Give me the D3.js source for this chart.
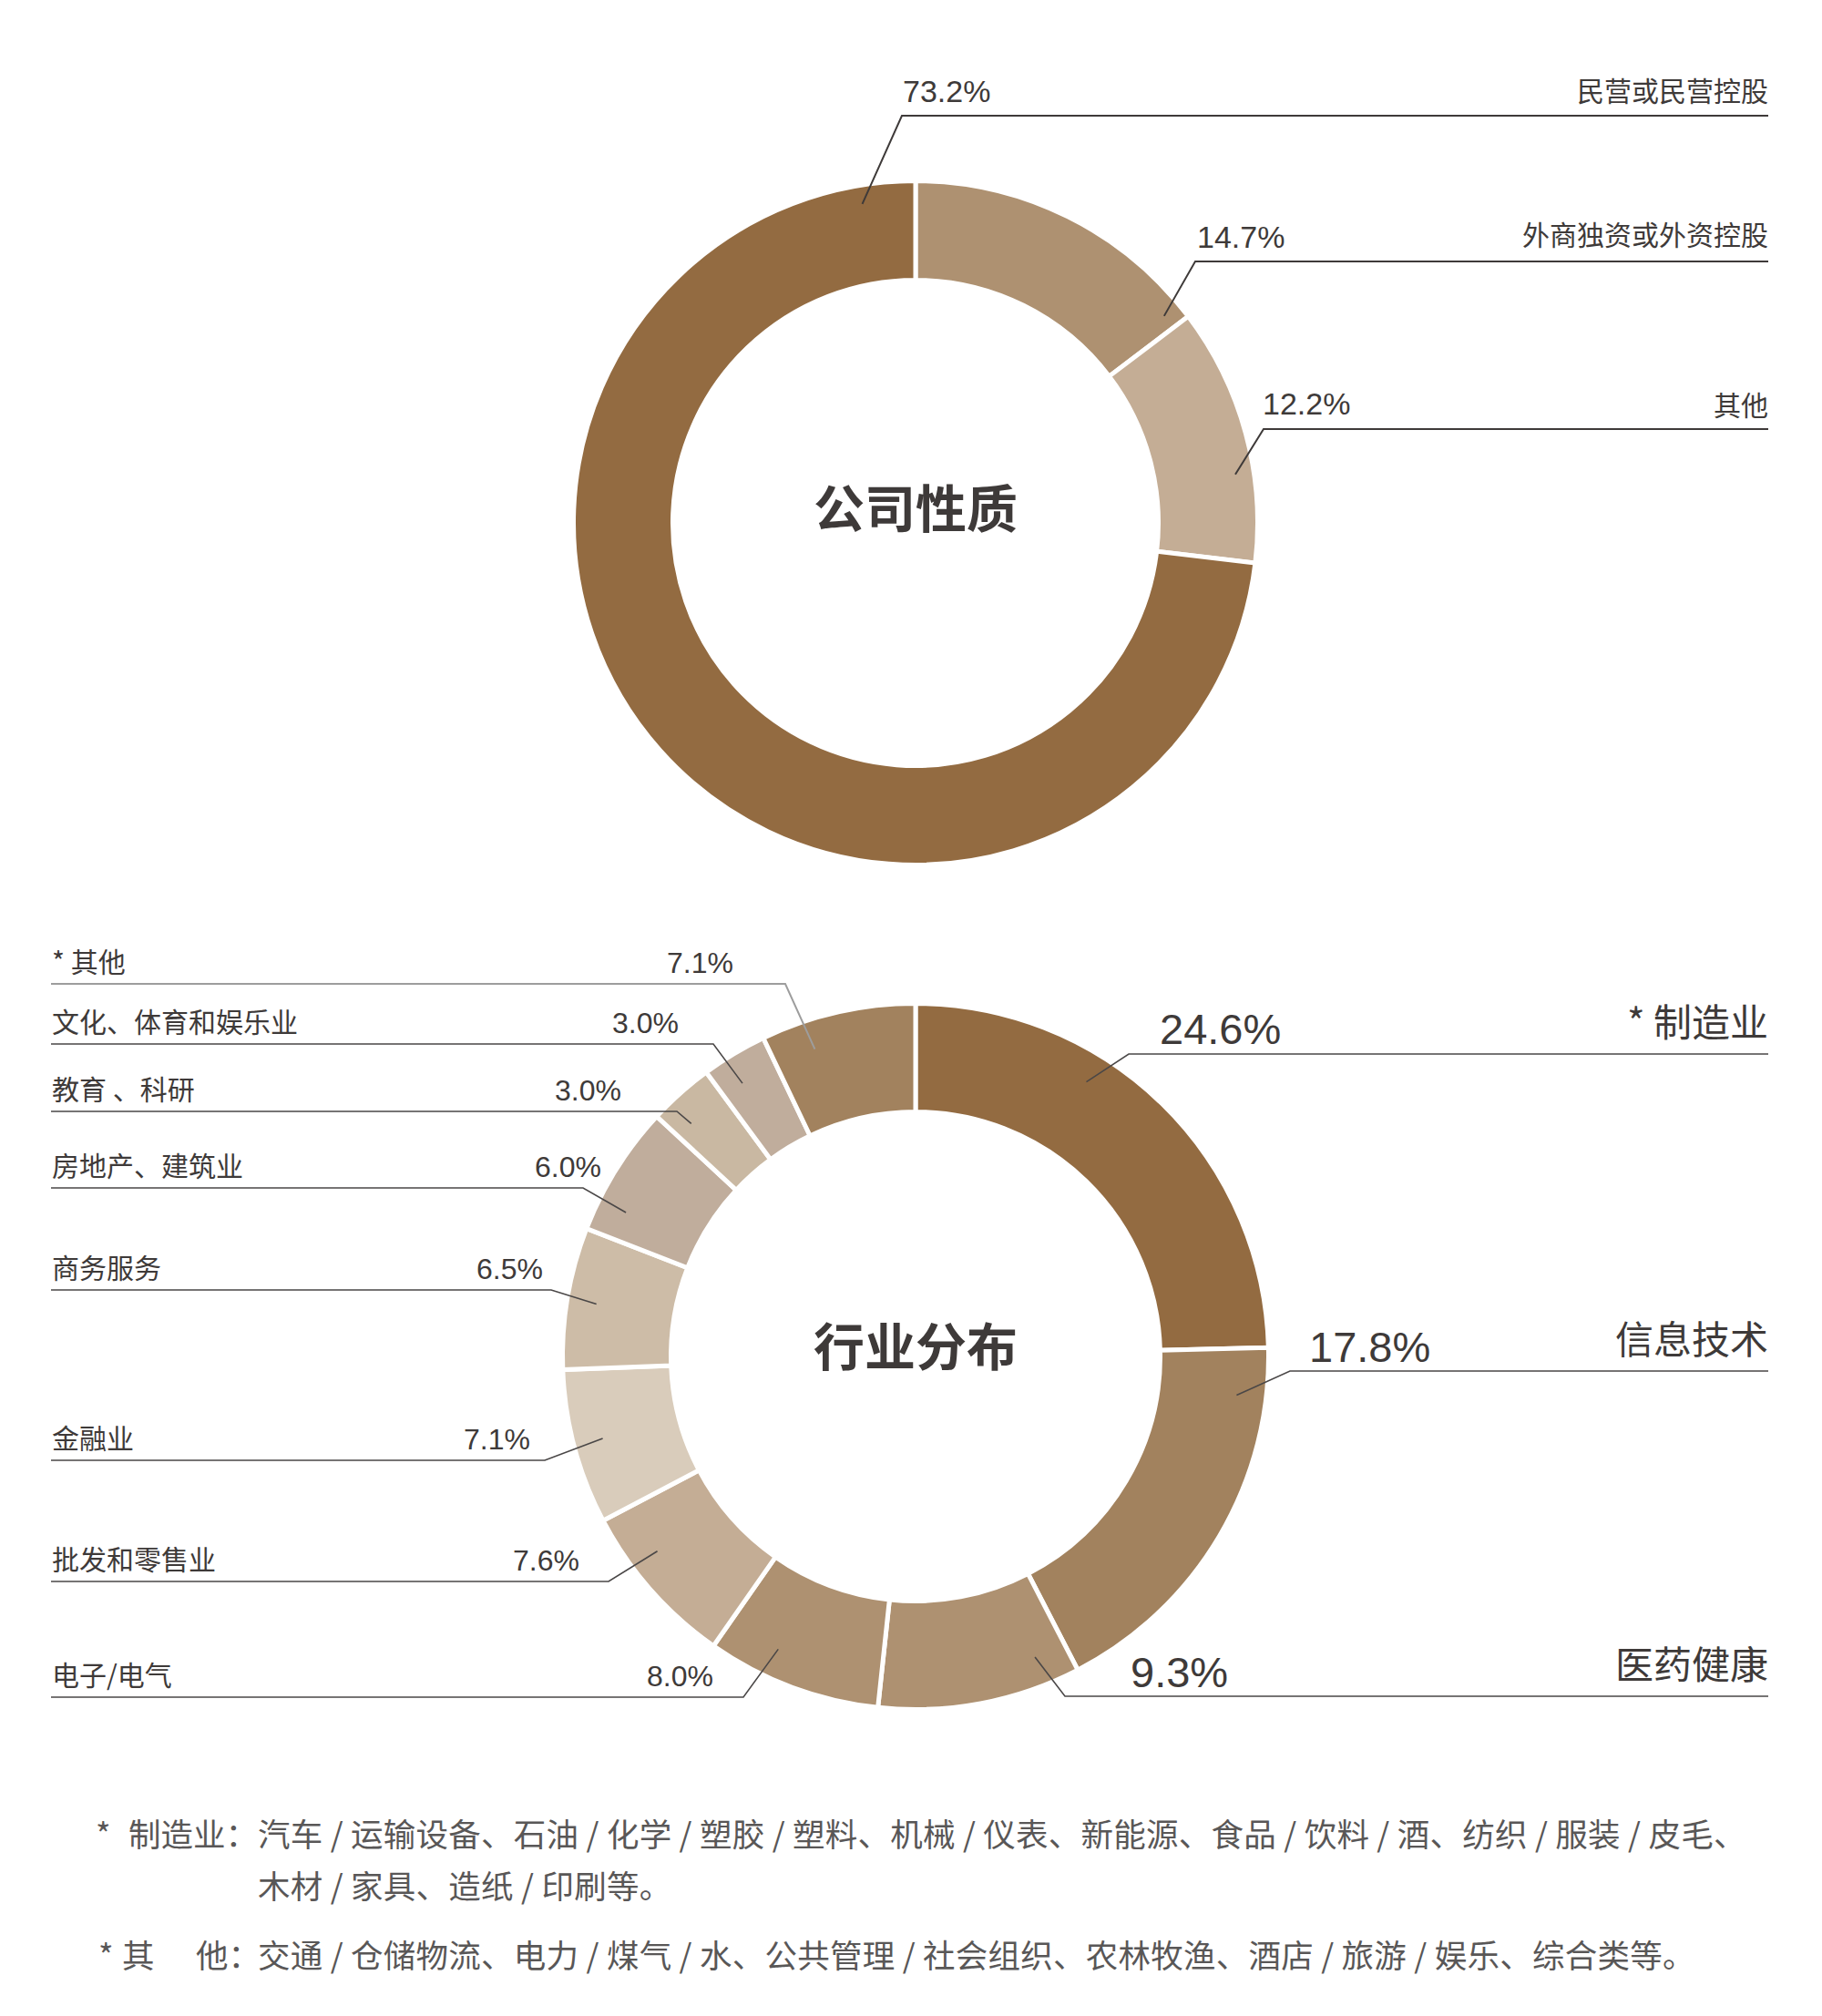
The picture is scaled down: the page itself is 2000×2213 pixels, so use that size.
<!DOCTYPE html>
<html><head><meta charset="utf-8">
<script src="https://cdn.jsdelivr.net/npm/d3@7"></script>
<style>
html,body{margin:0;padding:0;background:#fff;}
svg{display:block;}
</style></head>
<body>
<script>
// ---------- data ----------
const topTitle = "公司性质";
const topCategories = ["外商独资或外资控股", "其他", "民营或民营控股"];
const topValues = [14.7, 12.2, 73.2];
const topLabels = ["14.7%", "12.2%", "73.2%"];

const botTitle = "行业分布";
const botCategories = ["* 制造业", "信息技术", "医药健康", "电子/电气", "批发和零售业", "金融业", "商务服务", "房地产、建筑业", "教育 、科研", "文化、体育和娱乐业", "* 其他"];
const botValues = [24.6, 17.8, 9.3, 8.0, 7.6, 7.1, 6.5, 6.0, 3.0, 3.0, 7.1];
const botLabels = ["24.6%", "17.8%", "9.3%", "8.0%", "7.6%", "7.1%", "6.5%", "6.0%", "3.0%", "3.0%", "7.1%"];

const footnotes = [
  {mark: "*", head: ["制造业："], lines: ["汽车 / 运输设备、石油 / 化学 / 塑胶 / 塑料、机械 / 仪表、新能源、食品 / 饮料 / 酒、纺织 / 服装 / 皮毛、", "木材 / 家具、造纸 / 印刷等。"]},
  {mark: "*", head: ["其", "他："], lines: ["交通 / 仓储物流、电力 / 煤气 / 水、公共管理 / 社会组织、农林牧渔、酒店 / 旅游 / 娱乐、综合类等。"]}
];

// ---------- styles ----------
const topColors = ["#ae9171", "#c4ad95", "#936b41"];
const botColors = ["#936b41", "#a2825e", "#ae9171", "#ae9171", "#c4ad95", "#d9ccbb", "#cdbca7", "#c0ad9c", "#c9b8a2", "#c0ad9c", "#a2825e"];
const TEXT = "#3e3a39";
const CJK = "'Noto Sans CJK SC', 'Noto Sans', sans-serif";
const NUM = "'Liberation Sans', Arial, sans-serif";

// ---------- layout (annotation placement) ----------
const topLayout = {cx: 1005, cy: 574, rOut: 373, rIn: 269, rLead: 355, titleY: 579,
  rightX: 1941,
  items: [
    {side: "right", lineY: 287, elbowX: 1312, pctX: 1314, pctY: 272, labY: 269, frac: 0.95},
    {side: "right", lineY: 471, elbowX: 1387, pctX: 1386, pctY: 455, labY: 456, frac: 0.65},
    {side: "right", lineY: 127, elbowX: 990, pctX: 991, pctY: 112, labY: 111, frac: 0.964}
  ]};
const botLayout = {cx: 1005, cy: 1489, rOut: 385, rIn: 271, rLead: 355, titleY: 1499,
  rightX: 1941, leftX: 56,
  items: [
    {side: "right", lineY: 1157, elbowX: 1239, pctX: 1273, pctY: 1146, labY: 1138, frac: 0.36},
    {side: "right", lineY: 1505, elbowX: 1416, pctX: 1437, pctY: 1495, labY: 1486, frac: 0.13},
    {side: "right", lineY: 1862, elbowX: 1169, pctX: 1241, pctY: 1852, labY: 1843, frac: 0.17},
    {side: "left", lineY: 1863, elbowX: 816, pctX: 783, frac: 0.66},
    {side: "left", lineY: 1736, elbowX: 668, pctX: 636, frac: 0.66},
    {side: "left", lineY: 1603, elbowX: 598, pctX: 582, frac: 0.51},
    {side: "left", lineY: 1416, elbowX: 605, pctX: 596, frac: 0.49},
    {side: "left", lineY: 1304, elbowX: 640, pctX: 660, frac: 0.24},
    {side: "left", lineY: 1220, elbowX: 743, pctX: 682, frac: 0.30},
    {side: "left", lineY: 1146, elbowX: 783, pctX: 745, frac: 0.37},
    {side: "left", lineY: 1080, elbowX: 862, pctX: 805, frac: 0.29, light: true}
  ]};

const W = 2000, H = 2213;
const svg = d3.select("body").append("svg").attr("width", W).attr("height", H);

function donut(categories, values, labels, colors, title, L, opts) {
  const g = svg.append("g");
  const pie = d3.pie().sort(null).value(d => d)(values);
  const sepW = 5;
  const arc = d3.arc().innerRadius(L.rIn - sepW / 2).outerRadius(L.rOut + sepW / 2);
  const ring = g.append("g").attr("transform", `translate(${L.cx},${L.cy})`);
  ring.selectAll("path").data(pie).join("path")
    .attr("d", arc)
    .attr("fill", (d, i) => colors[i])
    .attr("stroke", "#fff").attr("stroke-width", sepW).attr("stroke-linejoin", "miter");

  // title
  g.append("text").attr("x", L.cx).attr("y", L.titleY).attr("text-anchor", "middle")
    .attr("font-family", CJK).attr("font-weight", 700).attr("font-size", 56)
    .attr("fill", TEXT).text(title);

  pie.forEach((p, i) => {
    const it = L.items[i];
    const a = p.startAngle + it.frac * (p.endAngle - p.startAngle);
    const px = L.cx + L.rLead * Math.sin(a), py = L.cy - L.rLead * Math.cos(a);
    const endX = it.side === "right" ? L.rightX : L.leftX;
    const lc = it.light ? "#9d9d9d" : opts.lineColor;
    const lw = it.light ? 2 : opts.lineW;
    g.append("polyline")
      .attr("points", `${px},${py} ${it.elbowX},${it.lineY} ${endX},${it.lineY}`)
      .attr("fill", "none").attr("stroke", lc).attr("stroke-width", lw);
    if (it.side === "right") {
      g.append("text").attr("x", it.pctX).attr("y", it.pctY)
        .attr("font-family", NUM).attr("font-size", opts.pctSizeR).attr("fill", TEXT).text(labels[i]);
      g.append("text").attr("x", L.rightX).attr("y", it.labY).attr("text-anchor", "end")
        .attr("font-family", CJK).attr("font-size", opts.labSizeR).attr("fill", TEXT).text(categories[i]);
    } else {
      g.append("text").attr("x", it.pctX).attr("y", it.lineY - 12).attr("text-anchor", "end")
        .attr("font-family", NUM).attr("font-size", opts.pctSizeL).attr("fill", TEXT).text(labels[i]);
      g.append("text").attr("x", L.leftX + 1).attr("y", it.lineY - 13)
        .attr("font-family", CJK).attr("font-size", opts.labSizeL).attr("fill", TEXT).text(categories[i]);
    }
  });
}

donut(topCategories, topValues, topLabels, topColors, topTitle, topLayout,
  {pctSizeR: 34, labSizeR: 30, lineW: 2, lineColor: "#3e3a39"});
donut(botCategories, botValues, botLabels, botColors, botTitle, botLayout,
  {pctSizeR: 47, labSizeR: 42, pctSizeL: 32, labSizeL: 30, lineW: 1.6, lineColor: "#4a4747"});

// footnotes
const FN = "#595757", fnSize = 35.5;
const fg = svg.append("g").attr("font-family", CJK).attr("font-size", fnSize).attr("fill", FN);
const fnLayout = [
  {markX: 105, headX: [141], bodyX: 283, ys: [2027, 2084]},
  {markX: 108, headX: [134, 215], bodyX: 283, ys: [2160]}
];
footnotes.forEach((f, i) => {
  const L = fnLayout[i];
  fg.append("text").attr("x", L.markX).attr("y", L.ys[0]).text(f.mark);
  f.head.forEach((h, j) => fg.append("text").attr("x", L.headX[j]).attr("y", L.ys[0]).text(h));
  f.lines.forEach((t, j) => fg.append("text").attr("x", L.bodyX).attr("y", L.ys[j])
    .attr("letter-spacing", 0.25).text(t));
});
</script>
</body></html>
